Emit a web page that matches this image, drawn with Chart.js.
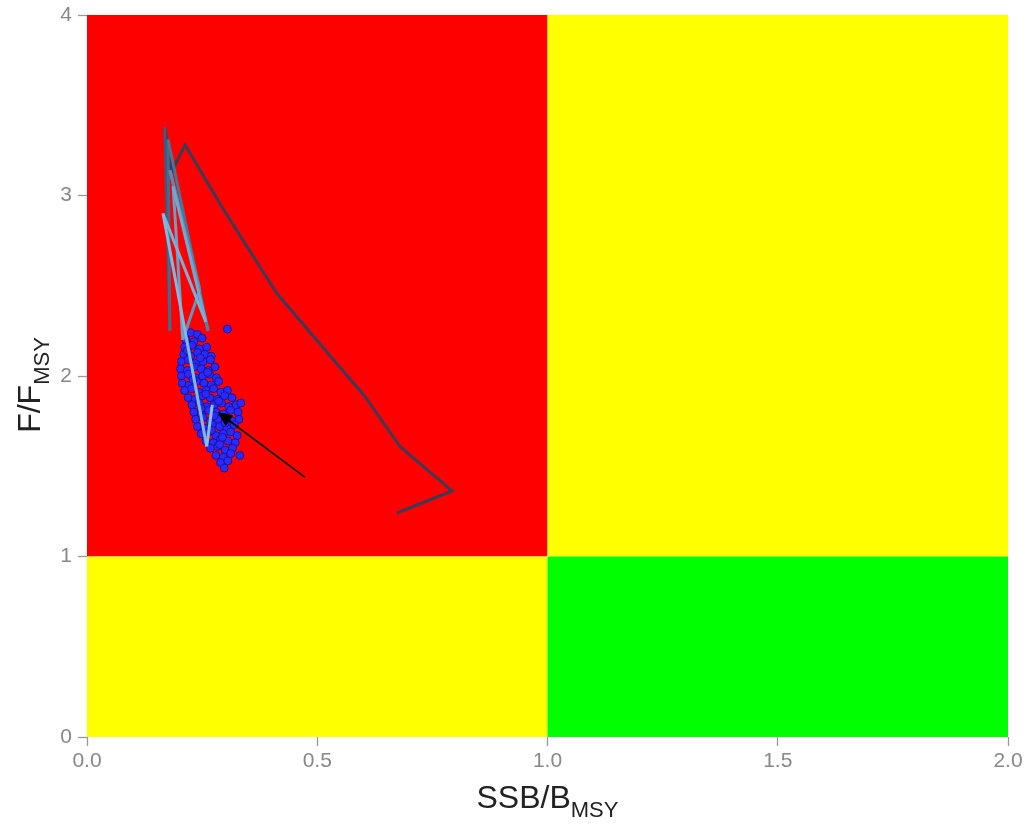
<!DOCTYPE html>
<html>
<head>
<meta charset="utf-8">
<script src="https://cdn.jsdelivr.net/npm/chart.js@4.4.1/dist/chart.umd.min.js"></script>
<style>
html,body{margin:0;padding:0;background:#fff;}
#wrap{width:1032px;height:828px;position:relative;}
</style>
</head>
<body>
<div id="wrap"><canvas id="c" width="1032" height="828"></canvas></div>
<script>
// ---- Data ----
const xTicks = [0.0, 0.5, 1.0, 1.5, 2.0];
const yTicks = [0, 1, 2, 3, 4];

// Historical trajectory (SSB/BMSY, F/FMSY), oldest first
const trajSSB = [0.673, 0.793, 0.680, 0.604, 0.412, 0.292, 0.213, 0.184, 0.169, 0.180, 0.176, 0.263, 0.180, 0.245, 0.208, 0.187, 0.258, 0.165, 0.260, 0.272];
const trajF   = [1.241, 1.363, 1.608, 1.885, 2.458, 2.940, 3.280, 3.130, 3.380, 2.250, 3.310, 2.250, 3.140, 2.480, 2.200, 3.050, 2.300, 2.900, 1.610, 1.840];

// Uncertainty cloud of terminal-year estimates
const cloudSSB = [
 0.225,0.240, 0.305,
 0.215,0.232,0.250,
 0.212,0.228,0.244,0.260,
 0.210,0.225,0.240,0.256,0.270,
 0.205,0.220,0.236,0.252,0.268,
 0.203,0.218,0.233,0.248,0.263,0.278,
 0.205,0.220,0.236,0.251,0.266,0.281,
 0.207,0.222,0.238,0.254,0.270,0.286,
 0.212,0.227,0.243,0.259,0.275,0.291,0.305,
 0.220,0.235,0.251,0.267,0.283,0.299,0.315,
 0.228,0.244,0.260,0.276,0.292,0.308,0.324,0.334,
 0.232,0.248,0.264,0.280,0.296,0.312,0.328,
 0.236,0.252,0.268,0.284,0.300,0.316,0.330,
 0.240,0.256,0.272,0.288,0.304,0.320,
 0.248,0.264,0.280,0.296,0.312,0.326,
 0.258,0.274,0.290,0.306,0.322,
 0.268,0.284,0.300,0.316,0.332,
 0.280,0.296,0.312,
 0.290,0.306, 0.298,
 0.218,0.246,0.262,0.230,0.258,0.286,0.248,0.276,0.300,0.270,0.294,0.288
];
const cloudF = [
 2.24,2.23, 2.26,
 2.20,2.19,2.21,
 2.16,2.17,2.15,2.16,
 2.12,2.11,2.13,2.12,2.11,
 2.08,2.09,2.07,2.08,2.09,
 2.04,2.03,2.05,2.04,2.03,2.05,
 2.00,2.01,1.99,2.00,2.01,1.99,
 1.96,1.95,1.97,1.96,1.95,1.97,
 1.92,1.93,1.91,1.92,1.93,1.91,1.92,
 1.88,1.87,1.89,1.88,1.87,1.89,1.88,
 1.84,1.85,1.83,1.84,1.85,1.83,1.84,1.85,
 1.80,1.79,1.81,1.80,1.79,1.81,1.80,
 1.76,1.77,1.75,1.76,1.77,1.75,1.76,
 1.72,1.71,1.73,1.72,1.71,1.73,
 1.68,1.69,1.67,1.68,1.69,1.67,
 1.64,1.63,1.65,1.64,1.63,
 1.60,1.61,1.59,1.60,1.56,
 1.56,1.55,1.57,
 1.52,1.53, 1.49,
 2.14,2.10,2.02,1.98,1.90,1.86,1.82,1.78,1.74,1.70,1.66,1.62
];

// Arrow (tail -> head) in data units
const arrowSSB = [0.473, 0.284];
const arrowF   = [1.44, 1.80];

// Quadrant zones
const zoneX0 = [0, 1, 0, 1];
const zoneX1 = [1, 2, 1, 2];
const zoneY0 = [1, 1, 0, 0];
const zoneY1 = [4, 4, 1, 1];
const zoneColors = ['#ff0000', '#ffff00', '#ffff00', '#00ff00'];

// Segment colours of trajectory (old -> new)
const segColors = ['#3b3b55','#3b3b55','#3b3b55','#3b3b55','#3b3b55','#3b3b55','#3b3b55','#3b3b55',
  '#3f5a7a','#466a8c','#4a7598','#5280a6','#5a8bb2','#6195be','#68a0c8','#70a8d0','#78b0d8','#80b8e0','#88c0e6'];

const trajData = trajSSB.map((x,i)=>({x:x, y:trajF[i]}));
const cloudData = cloudSSB.map((x,i)=>({x:x, y:cloudF[i]}));

const FONT = '"Liberation Sans", Arial, sans-serif';

const zonesPlugin = {
  id:'zones',
  beforeDatasetsDraw(chart){
    const {ctx, scales:{x, y}} = chart;
    ctx.save();
    for(let i=0;i<zoneColors.length;i++){
      const l = x.getPixelForValue(zoneX0[i]), r = x.getPixelForValue(zoneX1[i]);
      const t = y.getPixelForValue(zoneY1[i]), b = y.getPixelForValue(zoneY0[i]);
      ctx.fillStyle = zoneColors[i];
      ctx.fillRect(l, t, r-l, b-t);
    }
    ctx.restore();
  }
};

const overlayPlugin = {
  id:'overlay',
  afterDatasetsDraw(chart){
    const {ctx, scales:{x, y}} = chart;
    const x0 = x.getPixelForValue(arrowSSB[0]), y0 = y.getPixelForValue(arrowF[0]);
    const x1 = x.getPixelForValue(arrowSSB[1]), y1 = y.getPixelForValue(arrowF[1]);
    ctx.save();
    ctx.strokeStyle = '#000'; ctx.fillStyle = '#000'; ctx.lineWidth = 1.6;
    const ang = Math.atan2(y1-y0, x1-x0);
    const hl = 16, hw = 0.42;
    ctx.beginPath(); ctx.moveTo(x0,y0);
    ctx.lineTo(x1 - Math.cos(ang)*hl*0.8, y1 - Math.sin(ang)*hl*0.8); ctx.stroke();
    ctx.beginPath(); ctx.moveTo(x1,y1);
    ctx.lineTo(x1 - hl*Math.cos(ang-hw), y1 - hl*Math.sin(ang-hw));
    ctx.lineTo(x1 - hl*Math.cos(ang+hw), y1 - hl*Math.sin(ang+hw));
    ctx.closePath(); ctx.fill();
    ctx.restore();
  },
  afterDraw(chart){
    const {ctx, chartArea} = chart;
    ctx.save();
    ctx.fillStyle = '#222';
    const drawSub = (main1, sub, cx, cy) => {
      ctx.font = '32px ' + FONT;
      const w1 = ctx.measureText(main1).width;
      ctx.font = '22px ' + FONT;
      const w2 = ctx.measureText(sub).width;
      const sx = cx - (w1 + w2)/2;
      ctx.textBaseline = 'alphabetic'; ctx.textAlign = 'left';
      ctx.font = '32px ' + FONT;
      ctx.fillText(main1, sx, cy);
      ctx.font = '22px ' + FONT;
      ctx.fillText(sub, sx + w1, cy + 9);
    };
    drawSub('SSB/B', 'MSY', (chartArea.left+chartArea.right)/2, 808);
    ctx.save();
    ctx.translate(40, 385);
    ctx.rotate(-Math.PI/2);
    drawSub('F/F', 'MSY', 0, 0);
    ctx.restore();
    ctx.restore();
  }
};

new Chart(document.getElementById('c'), {
  type:'scatter',
  data:{
    datasets:[
      {
        label:'trajectory',
        data: trajData,
        showLine:true,
        borderWidth:3,
        pointRadius:0,
        borderColor:'#3b3b55',
        segment:{ borderColor: c => segColors[c.p0DataIndex] },
        order:1
      },
      {
        label:'cloud',
        data: cloudData,
        pointRadius:4,
        pointBackgroundColor:'#2a2aff',
        pointBorderColor:'#10108a',
        pointBorderWidth:0.8,
        order:2
      }
    ]
  },
  plugins:[zonesPlugin, overlayPlugin],
  options:{
    responsive:false,
    animation:false,
    layout:{padding:{top:15, right:24, left:0, bottom:0}},
    plugins:{legend:{display:false}, tooltip:{enabled:false}},
    scales:{
      x:{
        type:'linear', min:0, max:2,
        afterFit: s => { s.height = 91; s.paddingLeft = 0; s.paddingRight = 0; },
        afterBuildTicks: s => { s.ticks = xTicks.map(v=>({value:v})); },
        ticks:{ color:'#888', font:{size:21, family:FONT}, padding:3,
          callback: v => v.toFixed(1), maxRotation:0 },
        grid:{ drawOnChartArea:false, color:'#999', tickLength:9, tickWidth:1.3 },
        border:{ display:false }
      },
      y:{
        type:'linear', min:0, max:4,
        afterFit: s => { s.width = 87; s.paddingTop = 0; s.paddingBottom = 0; },
        afterBuildTicks: s => { s.ticks = yTicks.map(v=>({value:v})); },
        ticks:{ color:'#888', font:{size:21, family:FONT}, padding:6,
          callback: v => String(v) },
        grid:{ drawOnChartArea:false, color:'#999', tickLength:9, tickWidth:1.3 },
        border:{ display:false }
      }
    }
  }
});
</script>
</body>
</html>
